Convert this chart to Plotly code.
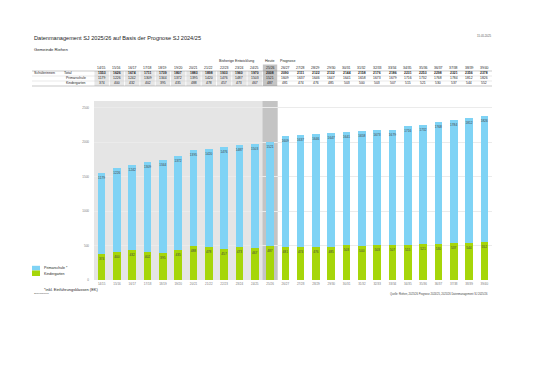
import plotly.graph_objects as go

years = ["14/15", "15/16", "16/17", "17/18", "18/19", "19/20", "20/21", "21/22", "22/23",
         "23/24", "24/25", "25/26", "26/27", "27/28", "28/29", "29/30", "30/31", "31/32",
         "32/33", "33/34", "34/35", "35/36", "36/37", "37/38", "38/39", "39/40"]
total = [1553, 1626, 1674, 1711, 1739, 1807, 1883, 1898, 1933, 1960, 1970, 2008, 2090,
         2111, 2122, 2132, 2144, 2158, 2176, 2186, 2231, 2253, 2298, 2321, 2356, 2378]
primarschule = [1179, 1226, 1242, 1309, 1344, 1372, 1395, 1420, 1476, 1487, 1503, 1521, 1609,
                1637, 1646, 1647, 1641, 1658, 1673, 1679, 1716, 1732, 1768, 1784, 1812, 1826]
kindergarten = [374, 400, 432, 402, 395, 435, 488, 478, 457, 473, 467, 487, 481,
                474, 476, 485, 503, 500, 503, 507, 515, 521, 530, 537, 544, 552]
y_ticks = [0, 500, 1000, 1500, 2000, 2500]

n_past = 11          # 14/15 .. 24/25
today_idx = 11       # 25/26

BLUE = "#7fd3f5"
GREEN = "#a6d609"
LGREY = "#e5e5e5"
DGREY = "#c4c4c4"
FONT = "Liberation Sans"

fig = go.Figure()
fig.add_trace(go.Bar(x=years, y=kindergarten, name="Kindergarten", marker_color=GREEN,
                     marker_line_width=0, text=kindergarten, textposition="inside",
                     insidetextanchor="end", textangle=0,
                     textfont=dict(size=3.2, color="#444444", family=FONT)))
fig.add_trace(go.Bar(x=years, y=primarschule, name="Primarschule *", marker_color=BLUE,
                     marker_line_width=0, text=primarschule, textposition="inside",
                     insidetextanchor="end", textangle=0,
                     textfont=dict(size=3.2, color="#444444", family=FONT)))

shapes = []
shapes.append(dict(type="rect", xref="x", yref="paper", x0=-0.5, x1=n_past - 0.5, y0=0, y1=1,
                   fillcolor=LGREY, line_width=0, layer="below"))
shapes.append(dict(type="rect", xref="x", yref="paper", x0=today_idx - 0.5, x1=today_idx + 0.5,
                   y0=0, y1=1, fillcolor=DGREY, line_width=0, layer="below"))

def py(p):
    return (280 - p) / 179.0

def px(p):
    return (p - 94) / 398.0

row_head = py(60.5)
row_year = py(67.8)
row_tot = py(73.4)
row_ps = py(78.4)
row_kg = py(83.4)
lines_y = [py(71.0), py(76.0), py(81.0), py(86.0)]

for i in range(len(years)):
    if i < n_past:
        shapes.append(dict(type="rect", xref="x", yref="paper", x0=i - 0.47, x1=i + 0.47,
                           y0=py(86.0), y1=py(71.0), fillcolor="#e6e6e6", line_width=0))
    elif i == today_idx:
        shapes.append(dict(type="rect", xref="x", yref="paper", x0=i - 0.47, x1=i + 0.47,
                           y0=py(86.0), y1=py(64.5), fillcolor=DGREY, line_width=0))

for k, ly in enumerate(lines_y):
    shapes.append(dict(type="line", xref="paper", yref="paper", x0=px(32), x1=1.0, y0=ly, y1=ly,
                       line=dict(color="#777777" if k in (0, 3) else "#c5c5c5", width=0.4)))

shapes.append(dict(type="rect", xref="paper", yref="paper", x0=px(32), x1=px(40),
                   y0=py(270.5), y1=py(265.8), fillcolor=BLUE, line_width=0))
shapes.append(dict(type="rect", xref="paper", yref="paper", x0=px(32), x1=px(40),
                   y0=py(276), y1=py(270.5), fillcolor=GREEN, line_width=0))

ann = []
def text(x, y, s, size=3.6, xref="paper", xanchor="left", color="#222222", bold=False):
    ann.append(dict(x=x, y=y, xref=xref, yref="paper", text=("<b>%s</b>" % s) if bold else s,
                    showarrow=False, xanchor=xanchor, yanchor="middle",
                    font=dict(size=size, color=color, family=FONT)))

text(px(32), py(38), "Datenmanagement SJ 2025/26 auf Basis der Prognose SJ 2024/25", size=5.6)
text(px(32), py(49.5), "Gemeinde Riehen", size=4.2)
text(px(493), py(36.5), "15.05.2025", size=2.8, xanchor="right", color="#555555")

text(8.8, row_head, "Bisherige Entwicklung", size=3.6, xref="x", xanchor="center")
text(today_idx, row_head, "Heute", size=3.6, xref="x", xanchor="center")
text(today_idx + 0.55, row_head, "Prognose", size=3.6, xref="x", xanchor="left")

text(px(32), row_tot, "Schülerinnen", size=3.6)
text(px(62), row_tot, "Total", size=3.6)
text(px(64), row_ps, "Primarschule", size=3.4)
text(px(64), row_kg, "Kindergarten", size=3.4)

for i, yr in enumerate(years):
    text(yr, row_year, yr, size=3.4, xref="x", xanchor="center")
    text(yr, row_tot, str(total[i]), size=3.4, xref="x", xanchor="center", bold=True)
    text(yr, row_ps, str(primarschule[i]), size=3.4, xref="x", xanchor="center")
    text(yr, row_kg, str(kindergarten[i]), size=3.4, xref="x", xanchor="center")

text(px(42), py(268), "Primarschule *", size=3.6)
text(px(42), py(273.5), "Kindergarten", size=3.6)

text(px(42), py(289), "*inkl. Einführungsklassen (EK)", size=4.0)
text(px(32), py(293.8), "Schulplanung", size=2.4, color="#555555")
text(px(490), py(294), "Quelle: Riehen, 2025/26 Prognose 2024/25, 2025/26 Datenmanagement SJ 2025/26",
     size=2.6, xanchor="right", color="#444444")

fig.update_layout(
    width=535, height=378,
    margin=dict(l=94, r=43, t=101, b=98, pad=0),
    paper_bgcolor="white", plot_bgcolor="white",
    barmode="stack", bargap=0.5,
    showlegend=False,
    shapes=shapes, annotations=ann,
    font=dict(family=FONT, size=4, color="#777777"),
    uniformtext=dict(minsize=2, mode="show"),
)
fig.update_xaxes(type="category", categoryorder="array", categoryarray=years,
                 showgrid=False, showline=False, zeroline=False, ticks="",
                 tickfont=dict(size=3.0, color="#777777"), ticklabelstandoff=1)
fig.update_yaxes(range=[0, 2600], tickvals=y_ticks, showgrid=True, gridcolor="#ebebeb",
                 gridwidth=0.5, zeroline=False, showline=False, ticks="",
                 tickfont=dict(size=3.0, color="#777777"), ticklabelstandoff=4)

fig.write_html("out.html", config={"displayModeBar": False},
               post_script="document.body.style.margin='0';")
